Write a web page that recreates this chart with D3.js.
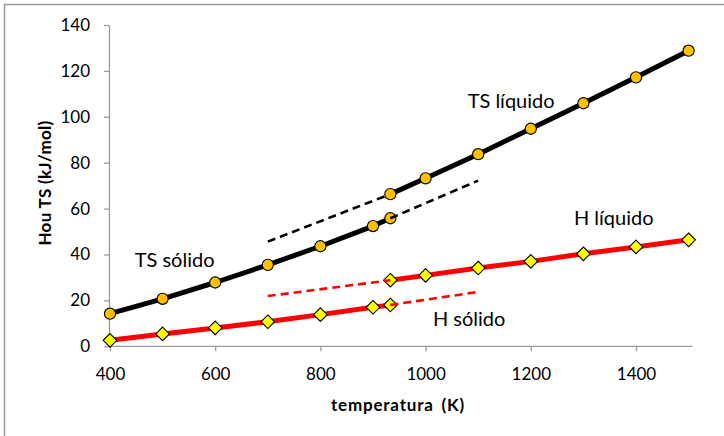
<!DOCTYPE html>
<html>
<head>
<meta charset="utf-8">
<script src="https://cdn.jsdelivr.net/npm/d3@7"></script>
<style>
  html, body { margin: 0; padding: 0; background: #fff; }
  svg { display: block; }
  .tick text { font-family: Lato, "Open Sans", sans-serif; font-size: 17px; fill: #000; }
  .axis path, .axis line { stroke: #9a9a9a; stroke-width: 1.3px; }
  .note { font-family: Lato, "Open Sans", sans-serif; font-size: 20px; fill: #000; }
  .title { font-family: Lato, "Open Sans", sans-serif; font-size: 17px; font-weight: bold; fill: #000; }
</style>
</head>
<body>
<svg id="chart" width="724" height="436"></svg>
<script>
// Temperature (K) and energy terms (kJ/mol) for solid and liquid phases
const tempSolid = [400, 500, 600, 700, 800, 900, 933];
const tsSolid   = [14.2, 20.7, 27.8, 35.5, 43.6, 52.4, 55.8];
const hSolid    = [2.6, 5.4, 8.0, 10.7, 13.8, 17.0, 18.0];

const tempLiquid = [933, 1000, 1100, 1200, 1300, 1400, 1500];
const tsLiquid   = [66.3, 73.2, 83.7, 94.8, 105.9, 117.2, 128.8];
const hLiquid    = [28.8, 30.9, 34.1, 37.0, 40.3, 43.3, 46.4];

// Extrapolated (metastable) branches
const tempLiquidExt = [700, 933];
const tsLiquidExt   = [45.6, 66.3];
const hLiquidExt    = [21.9, 28.8];
const tempSolidExt  = [933, 1100];
const tsSolidExt    = [55.8, 72.2];
const hSolidExt     = [18.0, 23.7];

const xTicks = [400, 600, 800, 1000, 1200, 1400];
const yTicks = [0, 20, 40, 60, 80, 100, 120, 140];

// Curve names, anchored in data coordinates (left end of baseline)
const labels = [
  { text: "TS líquido", t: 1080, v: 103.8 },
  { text: "TS sólido",  t: 447,  v: 34.4 },
  { text: "H líquido",  t: 1282, v: 52.9 },
  { text: "H sólido",   t: 1014, v: 9.0 }
];

const svg = d3.select("#chart");

// outer chart frame
svg.append("rect")
  .attr("x", 4.5).attr("y", 4.5)
  .attr("width", 760).attr("height", 470)
  .attr("fill", "none").attr("stroke", "#9a9a9a").attr("stroke-width", 1.5);

const x = d3.scaleLinear().domain([400, 1500]).range([110, 688.6]);
const y = d3.scaleLinear().domain([0, 140]).range([346.3, 25]);

// axes
const gx = svg.append("g").attr("class", "axis")
  .attr("transform", `translate(0,${y(0)})`)
  .call(d3.axisBottom(x).tickValues(xTicks).tickSize(5).tickSizeOuter(0).tickPadding(17).tickFormat(d3.format("d")));
gx.select(".domain").attr("d", `M${x(400)},0H${x(1500) + 4}`);

const gy = svg.append("g").attr("class", "axis")
  .attr("transform", `translate(${x(400) - 1},0)`)
  .call(d3.axisLeft(y).tickValues(yTicks).tickSize(5).tickSizeOuter(0).tickPadding(14).tickFormat(d3.format("d")));

// axis titles
svg.append("text").attr("class", "title")
  .attr("text-anchor", "middle")
  .attr("transform", `translate(51,183) rotate(-90)`)
  .attr("letter-spacing", "0.3px")
  .text("Hou TS (kJ/mol)");

svg.append("text").attr("class", "title")
  .attr("text-anchor", "middle")
  .attr("x", 398).attr("y", 411)
  .attr("letter-spacing", "0.8px")
  .attr("word-spacing", "3px")
  .text("temperatura (K)");

const zip = (ts, vs) => ts.map((t, i) => [t, vs[i]]);
const line = d3.line().x(d => x(d[0])).y(d => y(d[1]));

function solid(data, color) {
  svg.append("path").datum(data)
    .attr("d", line)
    .attr("fill", "none")
    .attr("stroke", color)
    .attr("stroke-width", 5)
    .attr("stroke-linejoin", "round");
}

function dashed(data, color) {
  svg.append("path").datum(data)
    .attr("d", line)
    .attr("fill", "none")
    .attr("stroke", color)
    .attr("stroke-width", 2.6)
    .attr("stroke-dasharray", "8,5");
}

function circles(data) {
  svg.append("g").selectAll("circle").data(data).join("circle")
    .attr("cx", d => x(d[0])).attr("cy", d => y(d[1]))
    .attr("r", 5.6)
    .attr("fill", "#ffc000")
    .attr("stroke", "#000").attr("stroke-width", 1.1);
}

function diamonds(data) {
  const s = 6.8;
  svg.append("g").selectAll("path").data(data).join("path")
    .attr("d", d => {
      const cx = x(d[0]), cy = y(d[1]);
      return `M${cx},${cy - s}L${cx + s},${cy}L${cx},${cy + s}L${cx - s},${cy}Z`;
    })
    .attr("fill", "#ffff00")
    .attr("stroke", "#000").attr("stroke-width", 1.1);
}

const hS = zip(tempSolid, hSolid), hL = zip(tempLiquid, hLiquid);
const tsS = zip(tempSolid, tsSolid), tsL = zip(tempLiquid, tsLiquid);

solid(hS, "#ff0000");
solid(hL, "#ff0000");
solid(tsS, "#000000");
solid(tsL, "#000000");

// supercooled-liquid TS branch sits beneath its marker
dashed(zip(tempLiquidExt, tsLiquidExt), "#000000");

diamonds(hS); diamonds(hL);
circles(tsS); circles(tsL);

dashed(zip(tempLiquidExt, hLiquidExt), "#ff0000");
dashed(zip(tempSolidExt, hSolidExt), "#ff0000");
dashed(zip(tempSolidExt, tsSolidExt), "#000000");

svg.append("g").selectAll("text").data(labels).join("text")
  .attr("class", "note")
  .attr("x", d => x(d.t)).attr("y", d => y(d.v))
  .text(d => d.text);
</script>
</body>
</html>
